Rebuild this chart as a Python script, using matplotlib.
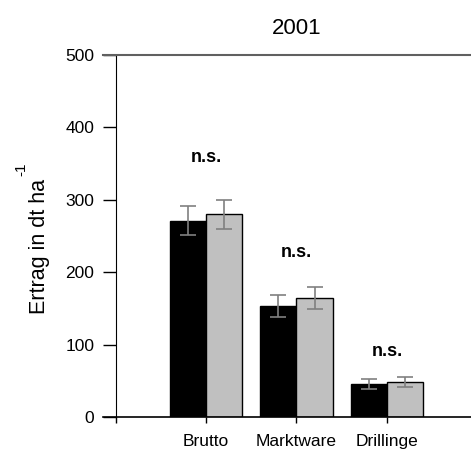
import matplotlib.pyplot as plt
import numpy as np

plt.rcParams['font.family'] = ['Liberation Sans', 'DejaVu Sans']

categories = ["Brutto", "Marktware", "Drillinge"]
black_vals = [271, 153, 46]
black_err = [20, 15, 7]
grey_vals = [280, 164, 48]
grey_err = [20, 15, 7]
ns_y = [358, 227, 90]

fig = plt.figure(figsize=(4.71, 4.54), dpi=100)
ax = fig.add_axes([103 / 471, 37 / 454, 368 / 471, 362 / 454])

x = np.arange(1, len(categories) + 1)
w = 0.4
ax.bar(x - w / 2, black_vals, w, color="black", edgecolor="black", linewidth=1)
ax.bar(x + w / 2, grey_vals, w, color="#c0c0c0", edgecolor="black", linewidth=1)
ax.errorbar(x - w / 2, black_vals, yerr=black_err, fmt="none", ecolor="#808080",
            elinewidth=1.2, capsize=5.8, capthick=1.2)
ax.errorbar(x + w / 2, grey_vals, yerr=grey_err, fmt="none", ecolor="#808080",
            elinewidth=1.2, capsize=5.8, capthick=1.2)

for xi, yi in zip(x, ns_y):
    ax.text(xi, yi, "n.s.", ha="center", va="center", fontsize=13, fontweight="bold")

ax.set_xlim(-0.14, 3.93)
ax.set_ylim(0, 500)
ax.spines['left'].set_position(('data', 0))
ax.spines['right'].set_visible(False)
ax.spines['top'].set_color("#606060")
ax.spines['top'].set_linewidth(1.5)
ax.spines['bottom'].set_linewidth(1.2)

ax.set_yticks([0, 100, 200, 300, 400, 500])
ax.set_xticks([0, 1, 2, 3])
ax.set_xticklabels(["", "Brutto", "Marktware", "Drillinge"])
ax.tick_params(axis="y", length=9.5, width=1, pad=6, labelsize=12.5)
ax.tick_params(axis="x", length=4.5, width=1, pad=8, labelsize=12.5)

fig.text(297 / 471, 1 - 28 / 454, "2001", ha="center", va="center", fontsize=16)
fig.text(39 / 471, 1 - 246 / 454, "Ertrag in dt ha", rotation=90,
         ha="center", va="center", fontsize=15.5)
fig.text(21 / 471, 1 - 169 / 454, "-1", rotation=90,
         ha="center", va="center", fontsize=11)

fig.savefig("out.png", dpi=100)
